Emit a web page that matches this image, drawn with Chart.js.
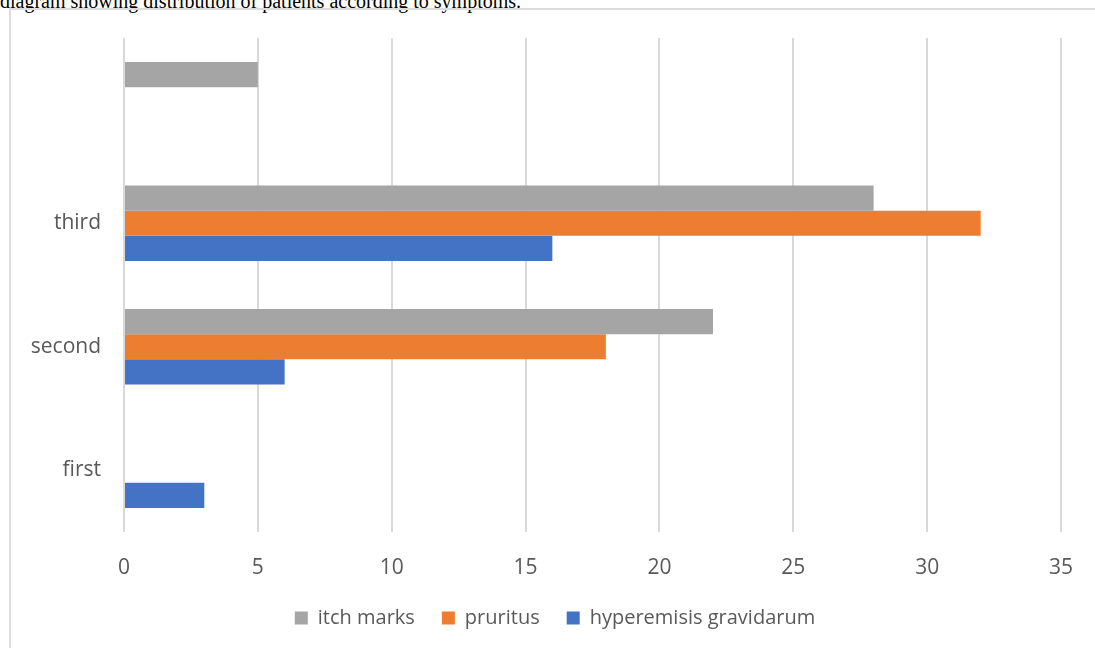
<!DOCTYPE html>
<html>
<head>
<meta charset="utf-8">
<script src="https://cdn.jsdelivr.net/npm/chart.js@4.4.0/dist/chart.umd.min.js"></script>
<style>
  html, body { margin: 0; padding: 0; background: #fff; overflow: hidden; width: 1095px; height: 648px; }
  #caption { position: absolute; left: 0px; top: -9px; font-family: "Liberation Serif", serif; font-size: 20px; line-height: 20px; color: #000; white-space: nowrap; }
  #frame { position: absolute; left: 9px; top: 8px; width: 2000px; height: 2000px; border-left: 2px solid #dcdcdc; border-top: 2px solid #dcdcdc; }
  #wrap { position: absolute; left: 11px; top: 10px; width: 1084px; height: 638px; }
</style>
</head>
<body>
<div id="caption">diagram showing distribution of patients according to symptoms.</div>
<div id="frame"></div>
<div id="wrap"><canvas id="c" width="1084" height="638"></canvas></div>
<script>
// categories listed top to bottom as they appear in the chart
const categories = ['', 'third', 'second', 'first'];
const itchMarks = [5, 28, 22, null];
const pruritus = [null, 32, 18, null];
const hyperemesisGravidarum = [null, 16, 6, 3];
const seriesNames = ['itch marks', 'pruritus', 'hyperemisis gravidarum'];
const xTicks = [0, 5, 10, 15, 20, 25, 30, 35];

const FONT = '"Open Sans", sans-serif';
const TEXT = '#595959';

new Chart(document.getElementById('c'), {
  type: 'bar',
  data: {
    labels: categories,
    datasets: [
      { label: seriesNames[0], data: itchMarks, backgroundColor: '#a5a5a5', yAxisID: 'y' },
      { label: seriesNames[1], data: pruritus, backgroundColor: '#ed7d31', yAxisID: 'y' },
      { label: seriesNames[2], data: hyperemesisGravidarum, backgroundColor: '#4472c4', yAxisID: 'y' }
    ]
  },
  options: {
    indexAxis: 'y',
    responsive: false,
    animation: false,
    devicePixelRatio: 1,
    datasets: { bar: { barPercentage: 1, categoryPercentage: 0.61, borderWidth: 0 } },
    layout: { padding: { left: 4, right: 0, top: 28, bottom: 10 } },
    scales: {
      x: {
        min: xTicks[0],
        max: xTicks[xTicks.length - 1],
        afterBuildTicks: (s) => { s.ticks = xTicks.map(v => ({ value: v })); },
        afterFit: (s) => { s.height = 49; s.paddingLeft = 0; s.paddingRight = 0; },
        grid: { color: '#d9d9d9', lineWidth: 2, drawTicks: false },
        border: { display: false },
        ticks: { color: TEXT, font: { family: FONT, size: 21 }, padding: 23 }
      },
      y: {
        afterFit: (s) => { s.width = 109; s.paddingTop = 0; s.paddingBottom = 0; },
        grid: { display: false, drawTicks: false },
        border: { display: false },
        ticks: { color: TEXT, font: { family: FONT, size: 21 }, padding: 23 }
      },
      y2: {
        type: 'category',
        position: 'right',
        afterFit: (s) => { s.width = 34; s.paddingTop = 0; s.paddingBottom = 0; },
        grid: { display: false, drawTicks: false },
        border: { display: false },
        ticks: { display: false }
      }
    },
    plugins: {
      tooltip: { enabled: false },
      legend: {
        position: 'bottom',
        labels: {
          boxWidth: 13, boxHeight: 13, padding: 27,
          color: TEXT, font: { family: FONT, size: 20 }
        }
      }
    }
  }
});
</script>
</body>
</html>
